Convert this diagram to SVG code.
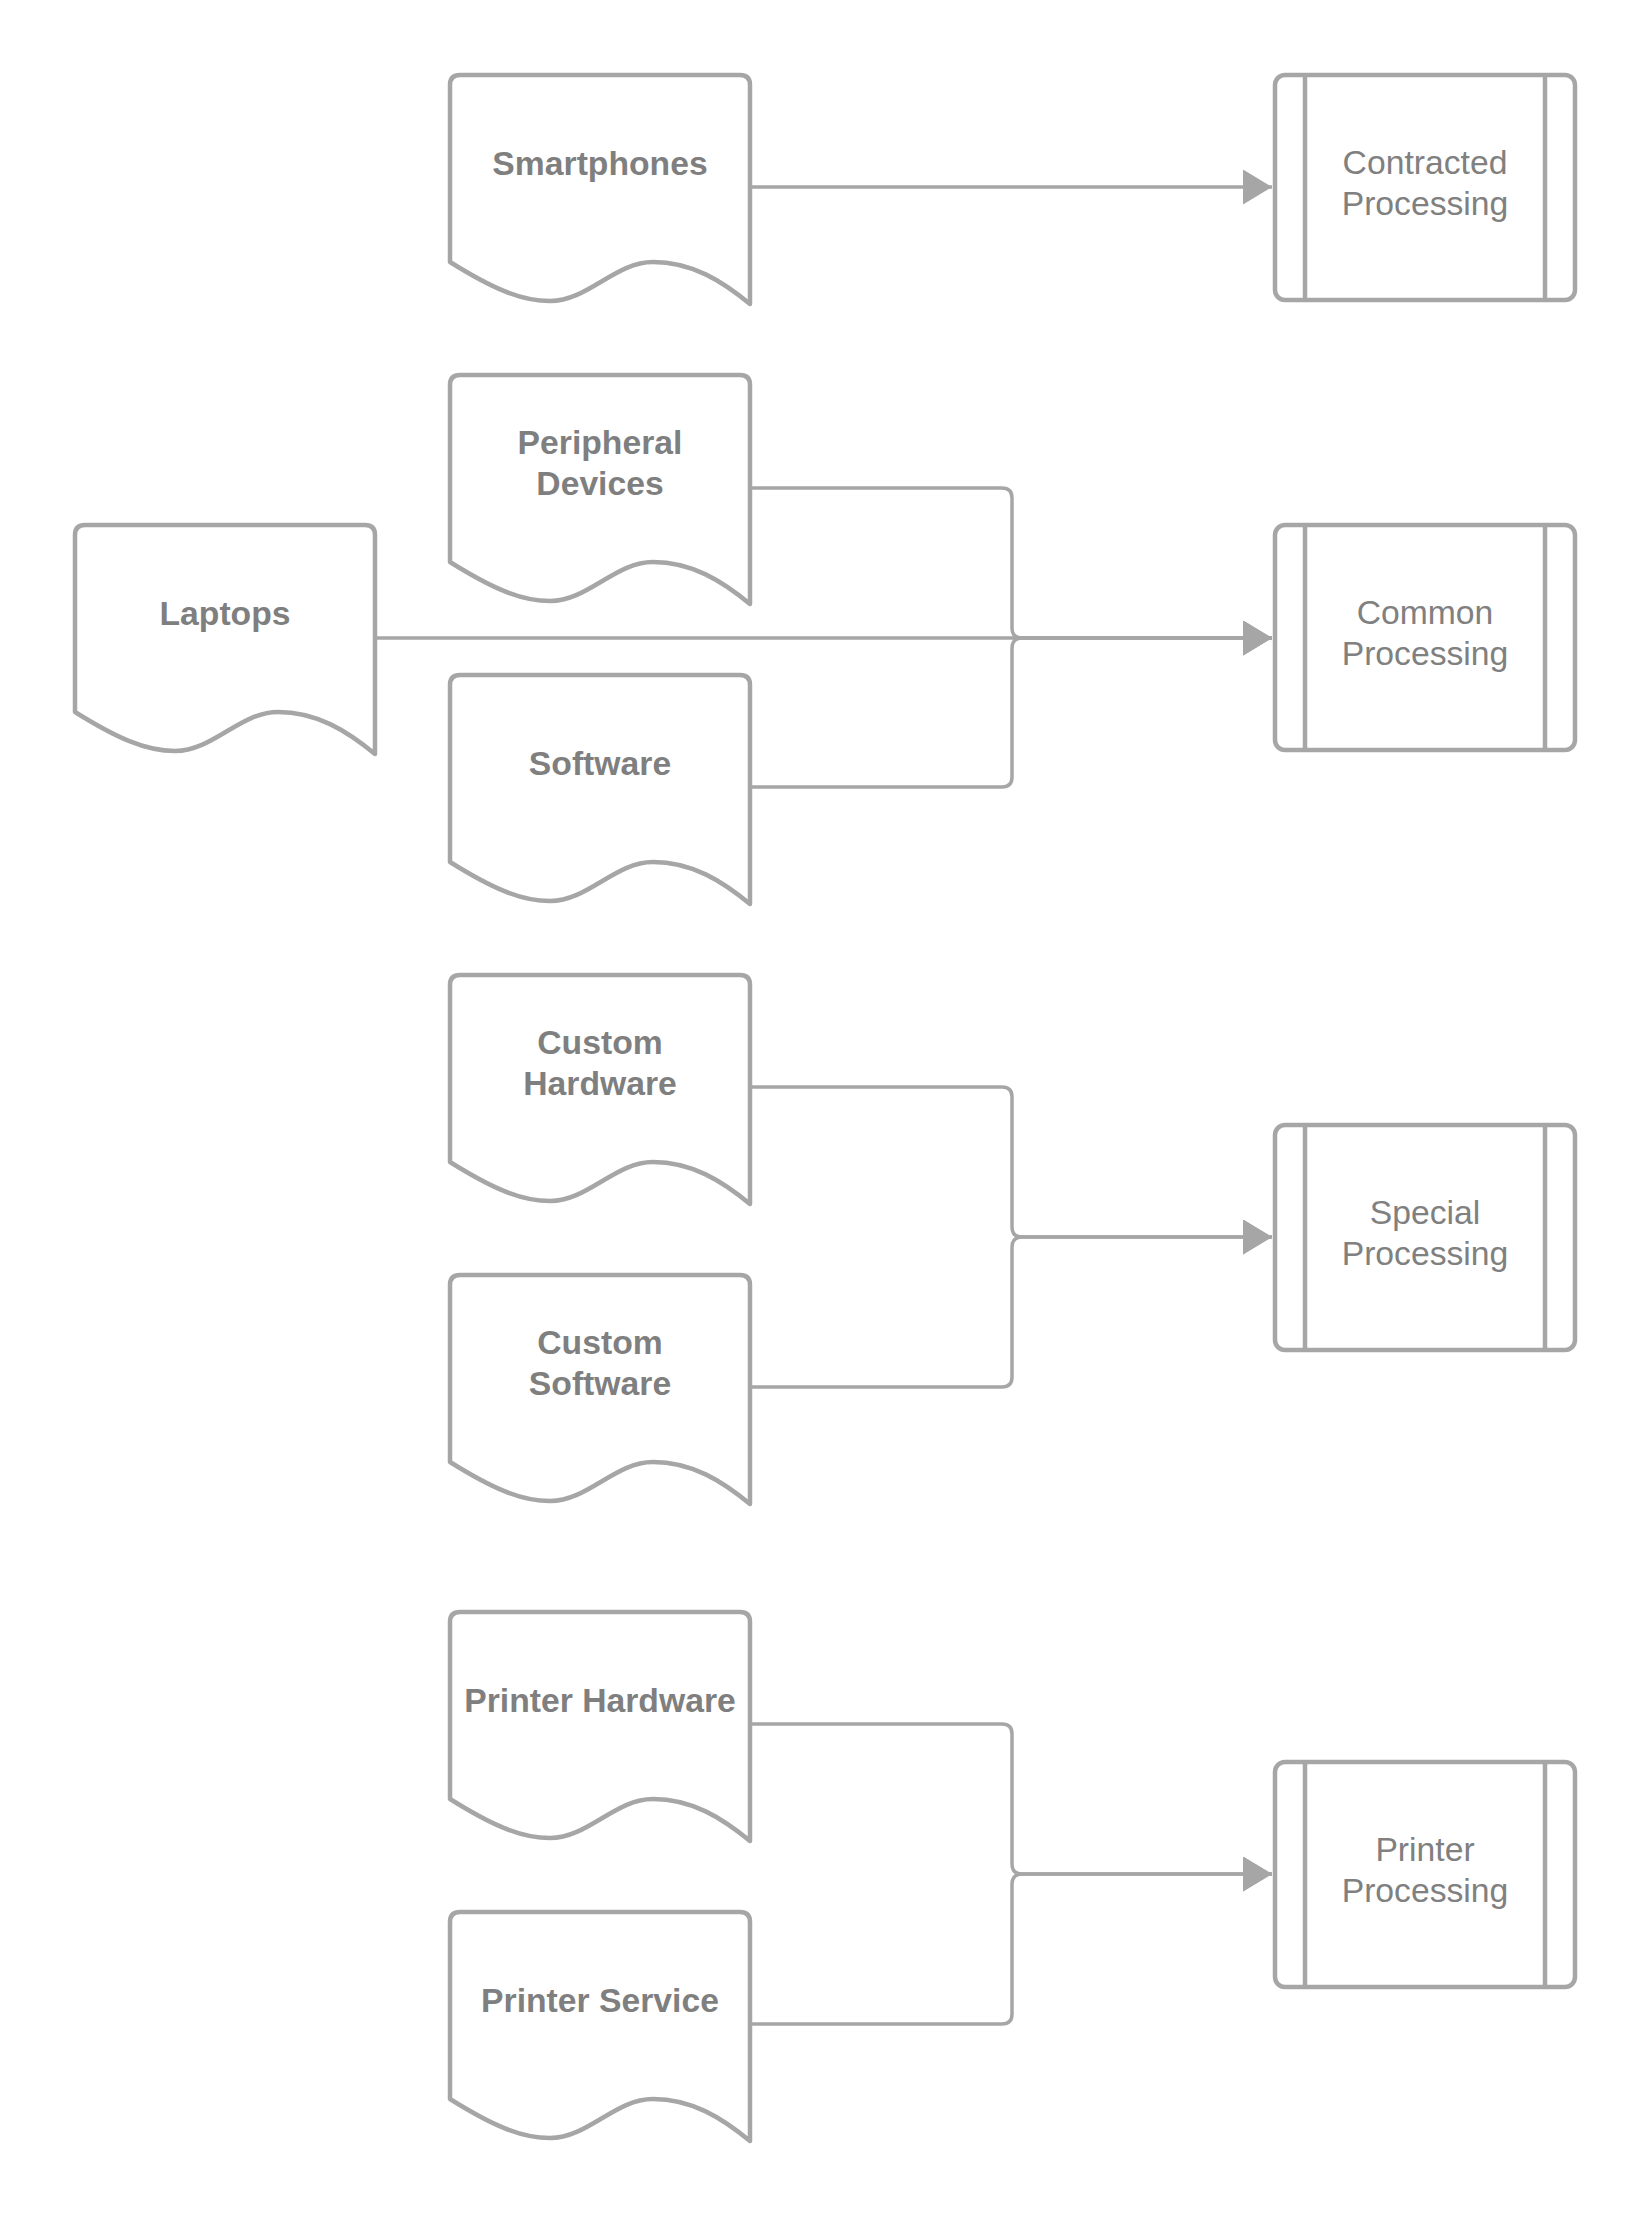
<svg xmlns="http://www.w3.org/2000/svg" width="1650" height="2213" viewBox="0 0 1650 2213">
<defs>
<style>
.doc{fill:#ffffff;stroke:#a6a6a6;stroke-width:4.5;stroke-linejoin:round}
.proc{fill:#ffffff;stroke:#a6a6a6;stroke-width:4.5}
.bar{stroke:#a6a6a6;stroke-width:4.5}
.dt{font-family:"Liberation Sans",Arial,sans-serif;font-weight:bold;font-size:33.7px;fill:#7f7f7f;text-anchor:middle}
.pt{font-family:"Liberation Sans",Arial,sans-serif;font-size:33.7px;fill:#808080;text-anchor:middle}
.con{fill:none;stroke:#a6a6a6;stroke-width:3.5}
</style>
<path id="docshape" d="M0,187 V10 Q0,0 10,0 H290 Q300,0 300,10 V229 C272,206 242,187 203,187 C165,187 138,226 100,226 C70,226 40,212 0,187 Z"/>
<marker id="arr" markerUnits="userSpaceOnUse" markerWidth="30" markerHeight="36" refX="29" refY="17.5" orient="auto" viewBox="0 0 30 36">
<polygon points="0,0 29,17.5 0,35" fill="#a6a6a6"/>
</marker>
</defs>
<rect width="1650" height="2213" fill="#ffffff"/>

<g id="connectors">
<path class="con" d="M750,187 H1272" marker-end="url(#arr)"/>
<path class="con" d="M750,488 H1002 Q1012,488 1012,498 V628 Q1012,638 1022,638 H1272" marker-end="url(#arr)"/>
<path class="con" d="M750,787 H1002 Q1012,787 1012,777 V648 Q1012,638 1022,638 H1272" marker-end="url(#arr)"/>
<path class="con" d="M375,638 H1272" marker-end="url(#arr)"/>
<path class="con" d="M750,1087 H1002 Q1012,1087 1012,1097 V1227 Q1012,1237 1022,1237 H1272" marker-end="url(#arr)"/>
<path class="con" d="M750,1387 H1002 Q1012,1387 1012,1377 V1247 Q1012,1237 1022,1237 H1272" marker-end="url(#arr)"/>
<path class="con" d="M750,1724 H1002 Q1012,1724 1012,1734 V1864 Q1012,1874 1022,1874 H1272" marker-end="url(#arr)"/>
<path class="con" d="M750,2024 H1002 Q1012,2024 1012,2014 V1884 Q1012,1874 1022,1874 H1272" marker-end="url(#arr)"/>
</g>

<g id="smartphones">
<use href="#docshape" class="doc" x="450" y="75"/>
<text class="dt" x="600" y="175">Smartphones</text>
</g>
<g id="peripheral">
<use href="#docshape" class="doc" x="450" y="375"/>
<text class="dt" x="600" y="454">Peripheral</text>
<text class="dt" x="600" y="495">Devices</text>
</g>
<g id="laptops">
<use href="#docshape" class="doc" x="75" y="525"/>
<text class="dt" x="225" y="625">Laptops</text>
</g>
<g id="software">
<use href="#docshape" class="doc" x="450" y="675"/>
<text class="dt" x="600" y="775">Software</text>
</g>
<g id="customhardware">
<use href="#docshape" class="doc" x="450" y="975"/>
<text class="dt" x="600" y="1054">Custom</text>
<text class="dt" x="600" y="1095">Hardware</text>
</g>
<g id="customsoftware">
<use href="#docshape" class="doc" x="450" y="1275"/>
<text class="dt" x="600" y="1354">Custom</text>
<text class="dt" x="600" y="1395">Software</text>
</g>
<g id="printerhardware">
<use href="#docshape" class="doc" x="450" y="1612"/>
<text class="dt" x="600" y="1712">Printer Hardware</text>
</g>
<g id="printerservice">
<use href="#docshape" class="doc" x="450" y="1912"/>
<text class="dt" x="600" y="2012">Printer Service</text>
</g>

<g id="contracted">
<rect class="proc" x="1275" y="75" width="300" height="225" rx="10"/>
<line class="bar" x1="1305" y1="75" x2="1305" y2="300"/>
<line class="bar" x1="1545" y1="75" x2="1545" y2="300"/>
<text class="pt" x="1425" y="174">Contracted</text>
<text class="pt" x="1425" y="215">Processing</text>
</g>
<g id="common">
<rect class="proc" x="1275" y="525" width="300" height="225" rx="10"/>
<line class="bar" x1="1305" y1="525" x2="1305" y2="750"/>
<line class="bar" x1="1545" y1="525" x2="1545" y2="750"/>
<text class="pt" x="1425" y="624">Common</text>
<text class="pt" x="1425" y="665">Processing</text>
</g>
<g id="special">
<rect class="proc" x="1275" y="1125" width="300" height="225" rx="10"/>
<line class="bar" x1="1305" y1="1125" x2="1305" y2="1350"/>
<line class="bar" x1="1545" y1="1125" x2="1545" y2="1350"/>
<text class="pt" x="1425" y="1224">Special</text>
<text class="pt" x="1425" y="1265">Processing</text>
</g>
<g id="printerprocessing">
<rect class="proc" x="1275" y="1762" width="300" height="225" rx="10"/>
<line class="bar" x1="1305" y1="1762" x2="1305" y2="1987"/>
<line class="bar" x1="1545" y1="1762" x2="1545" y2="1987"/>
<text class="pt" x="1425" y="1861">Printer</text>
<text class="pt" x="1425" y="1902">Processing</text>
</g>
</svg>
